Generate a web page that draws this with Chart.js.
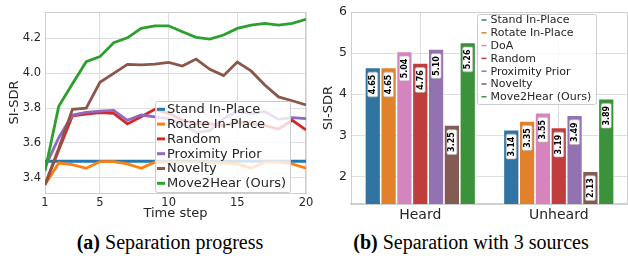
<!DOCTYPE html>
<html>
<head>
<meta charset="utf-8">
<script src="https://cdn.jsdelivr.net/npm/chart.js@4"></script>
<style>
  body { margin: 0; width: 628px; height: 259px; overflow: hidden; background: #fff; position: relative; }
  #progress { position: absolute; left: 0; top: 0; }
  #sources { position: absolute; left: 320px; top: 0; }
  .cap { position: absolute; top: 231px; font-family: "Liberation Serif", serif; font-size: 20px; color: #000; white-space: nowrap; transform: translateX(-50%); }
</style>
</head>
<body>
<canvas id="progress" width="320" height="225"></canvas>
<canvas id="sources" width="308" height="225"></canvas>
<div class="cap" style="left:170px"><b>(a)</b> Separation progress</div>
<div class="cap" style="left:471px"><b>(b)</b> Separation with 3 sources</div>
<script>
// ── (a) separation progress ──
const STEPS = [1, 2, 3, 4, 5, 6, 7, 8, 9, 10, 11, 12, 13, 14, 15, 16, 17, 18, 19, 20];
const STAND = [3.495, 3.495, 3.495, 3.495, 3.495, 3.495, 3.495, 3.495, 3.495, 3.495, 3.495, 3.495, 3.495, 3.495, 3.495, 3.495, 3.495, 3.495, 3.495, 3.495];
const ROTATE = [3.36, 3.485, 3.476, 3.455, 3.493, 3.493, 3.48, 3.455, 3.49, 3.49, 3.49, 3.49, 3.49, 3.485, 3.48, 3.455, 3.49, 3.49, 3.48, 3.455];
const RANDOM = [3.36, 3.56, 3.756, 3.765, 3.774, 3.77, 3.709, 3.75, 3.793, 3.77, 3.73, 3.71, 3.71, 3.70, 3.72, 3.71, 3.70, 3.68, 3.73, 3.675];
const PROXIMITY = [3.46, 3.63, 3.76, 3.776, 3.783, 3.787, 3.73, 3.76, 3.75, 3.74, 3.71, 3.66, 3.67, 3.74, 3.78, 3.77, 3.78, 3.735, 3.745, 3.74];
const NOVELTY = [3.36, 3.57, 3.793, 3.80, 3.948, 3.999, 4.051, 4.048, 4.052, 4.062, 4.041, 4.081, 4.022, 3.986, 4.064, 4.013, 3.932, 3.864, 3.842, 3.818];
const MOVE2HEAR = [3.44, 3.81, 3.94, 4.066, 4.095, 4.175, 4.203, 4.257, 4.272, 4.272, 4.238, 4.206, 4.196, 4.219, 4.257, 4.276, 4.286, 4.276, 4.286, 4.309];
const LINE_NAMES = ["Stand In-Place", "Rotate In-Place", "Random", "Proximity Prior", "Novelty", "Move2Hear (Ours)"];
const LINE_COLORS = ["#1f77b4", "#ff7f0e", "#d62728", "#9467bd", "#8c564b", "#2ca02c"];
const STEP_TICKS = [1, 5, 10, 15, 20];
const SDR_TICKS_A = [3.4, 3.6, 3.8, 4.0, 4.2];

// ── (b) separation with 3 sources ──
const GROUPS = ["Heard", "Unheard"];
const BAR_NAMES = ["Stand In-Place", "Rotate In-Place", "DoA", "Random", "Proximity Prior", "Novelty", "Move2Hear (Ours)"];
const HEARD = [4.65, 4.65, 5.04, 4.76, 5.10, 3.25, 5.26];
const UNHEARD = [3.14, 3.35, 3.55, 3.19, 3.49, 2.13, 3.89];
const BAR_COLORS = ["#3274a1", "#e1812c", "#d684bd", "#c03d3e", "#9372b2", "#845b53", "#3a923a"];
const SDR_TICKS_B = [2, 3, 4, 5, 6];

const TXT = "#262626";
const GRID = "#dedede";
const FRAME = "#cfcfcf";
const FONT = "'DejaVu Sans', sans-serif";
Chart.defaults.font.family = FONT;
Chart.defaults.color = TXT;

// frame on all four sides, like the seaborn whitegrid style
const frame = {
  id: "frame",
  beforeDatasetsDraw(chart) {
    const { ctx, chartArea: a } = chart;
    ctx.save();
    ctx.strokeStyle = FRAME;
    ctx.lineWidth = 1;
    ctx.strokeRect(a.left + 0.5, a.top + 0.5, a.right - a.left - 1, a.bottom - a.top);
    ctx.restore();
  },
};

// legend box drawn inside the plot
const boxLegend = {
  id: "boxLegend",
  afterDraw(chart, args, o) {
    const ctx = chart.ctx;
    ctx.save();
    ctx.fillStyle = "rgba(255,255,255,0.8)";
    ctx.strokeStyle = "#cccccc";
    ctx.lineWidth = 1;
    ctx.beginPath();
    ctx.roundRect(o.x + 0.5, o.y + 0.5, o.w, o.h, 2);
    ctx.fill();
    ctx.stroke();
    ctx.font = o.font;
    ctx.textBaseline = "middle";
    ctx.lineCap = "butt";
    chart.data.datasets.forEach((ds, i) => {
      const y = o.y + o.first + i * o.step;
      ctx.strokeStyle = ds.legendColor;
      ctx.lineWidth = o.handleWidth;
      ctx.beginPath();
      ctx.moveTo(o.handleX, y);
      ctx.lineTo(o.handleX + o.handleLen, y);
      ctx.stroke();
      ctx.fillStyle = TXT;
      ctx.fillText(ds.label, o.textX, y + 0.5);
    });
    ctx.restore();
  },
};

// rotated value tags near the top of each bar
const valueTags = {
  id: "valueTags",
  afterDatasetsDraw(chart) {
    const ctx = chart.ctx;
    ctx.save();
    ctx.font = "bold 8px " + FONT;
    ctx.textAlign = "center";
    ctx.textBaseline = "middle";
    chart.data.datasets.forEach((ds, di) => {
      chart.getDatasetMeta(di).data.forEach((bar, i) => {
        const txt = ds.data[i].toFixed(2);
        const len = ctx.measureText(txt).width + 5;
        ctx.save();
        ctx.translate(bar.x, bar.y + 17);
        ctx.rotate(-Math.PI / 2);
        ctx.fillStyle = "#fff";
        ctx.strokeStyle = "#b8b8b8";
        ctx.lineWidth = 0.7;
        ctx.beginPath();
        ctx.roundRect(-len / 2, -5, len, 10, 1.5);
        ctx.fill();
        ctx.stroke();
        ctx.fillStyle = "#000";
        ctx.fillText(txt, 0, 0.5);
        ctx.restore();
      });
    });
    ctx.restore();
  },
};

const lineSeries = [STAND, ROTATE, RANDOM, PROXIMITY, NOVELTY, MOVE2HEAR];
new Chart(document.getElementById("progress"), {
  type: "line",
  data: {
    datasets: lineSeries.map((vals, i) => ({
      label: LINE_NAMES[i],
      data: vals.map((v, k) => ({ x: STEPS[k], y: v })),
      borderColor: LINE_COLORS[i],
      legendColor: LINE_COLORS[i],
      borderWidth: 2.8,
      pointRadius: 0,
      tension: 0,
      order: lineSeries.length - i,
    })),
  },
  options: {
    responsive: false,
    animation: false,
    devicePixelRatio: 1,
    layout: { padding: { top: 12, right: 14, left: 0, bottom: 0 } },
    plugins: {
      legend: { display: false },
      tooltip: { enabled: false },
      boxLegend: { x: 155, y: 101, w: 135, h: 91, first: 8.3, step: 14.8, handleX: 157, handleLen: 8, handleWidth: 3, textX: 167, font: "13px " + FONT },
    },
    scales: {
      x: {
        type: "linear",
        min: 1,
        max: 20,
        afterBuildTicks: (s) => { s.ticks = STEP_TICKS.map((v) => ({ value: v })); },
        afterFit: (s) => { s.height = 32; },
        grid: { color: GRID, drawTicks: false },
        border: { color: FRAME },
        ticks: { padding: 3, color: TXT, font: { size: 11.5 }, maxRotation: 0, autoSkip: false },
        title: { display: true, text: "Time step", color: TXT, font: { size: 13 }, padding: { top: 0, bottom: 4 } },
      },
      y: {
        min: 3.313,
        max: 4.351,
        afterBuildTicks: (s) => { s.ticks = SDR_TICKS_A.map((v) => ({ value: v })); },
        afterFit: (s) => { s.width = 45; },
        grid: { color: GRID, drawTicks: false },
        border: { color: FRAME },
        ticks: { padding: 4, color: TXT, font: { size: 11.5 }, callback: (v) => v.toFixed(1) },
        title: { display: true, text: "SI-SDR", color: TXT, font: { size: 13 }, padding: { top: 7, bottom: 0 } },
      },
    },
  },
  plugins: [frame, boxLegend],
});

new Chart(document.getElementById("sources"), {
  type: "bar",
  data: {
    labels: GROUPS,
    datasets: BAR_NAMES.map((name, i) => ({
      label: name,
      data: [HEARD[i], UNHEARD[i]],
      backgroundColor: BAR_COLORS[i],
      legendColor: BAR_COLORS[i],
      borderColor: "#ffffff",
      borderWidth: 0.8,
      borderSkipped: "bottom",
      categoryPercentage: 0.8,
      barPercentage: 1,
    })),
  },
  options: {
    responsive: false,
    animation: false,
    devicePixelRatio: 1,
    layout: { padding: { top: 12, right: 0, left: 0, bottom: 0 } },
    plugins: {
      legend: { display: false },
      tooltip: { enabled: false },
      boxLegend: { x: 157, y: 14, w: 119, h: 90, first: 6, step: 12.8, handleX: 161.5, handleLen: 5, handleWidth: 1.5, textX: 170.5, font: "11px " + FONT },
    },
    scales: {
      x: {
        afterFit: (s) => { s.height = 21; },
        grid: { color: GRID, drawTicks: false, offset: false },
        border: { color: FRAME, width: 1.5 },
        ticks: { padding: 3, color: TXT, font: { size: 14 } },
      },
      y: {
        min: 1.33,
        max: 6,
        afterBuildTicks: (s) => { s.ticks = SDR_TICKS_B.map((v) => ({ value: v })); },
        afterFit: (s) => { s.width = 31; },
        grid: { color: GRID, drawTicks: false },
        border: { color: FRAME },
        ticks: { padding: 4, color: TXT, font: { size: 12.5 } },
        title: { display: true, text: "SI-SDR", color: TXT, font: { size: 13 }, padding: { top: 1, bottom: 0 } },
      },
    },
  },
  plugins: [frame, valueTags, boxLegend],
});
</script>
</body>
</html>
